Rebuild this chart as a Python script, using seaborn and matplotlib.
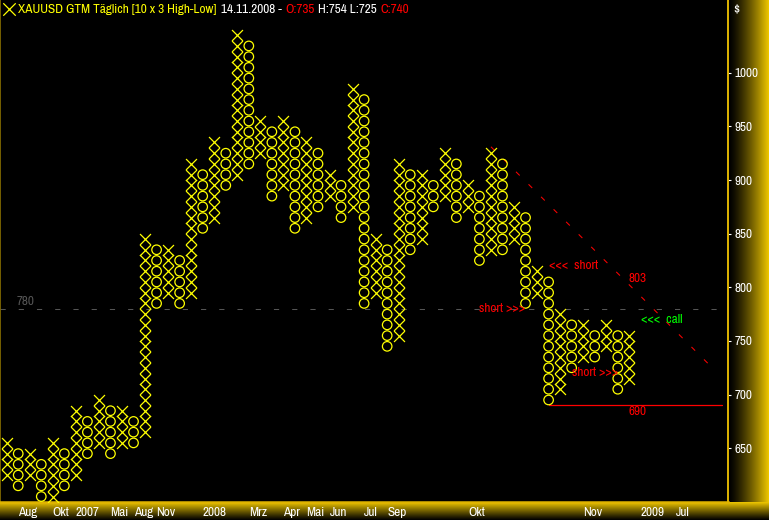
import matplotlib
matplotlib.use('Agg')
import matplotlib.pyplot as plt
import seaborn as sns
import pandas as pd
import numpy as np
from matplotlib import font_manager

# Point & Figure columns (10 x 3), box bottom prices
col_types = ['X', 'O', 'X', 'O', 'X', 'O', 'X', 'O', 'X', 'O',
             'X', 'O', 'X', 'O', 'X', 'O', 'X', 'O', 'X', 'O',
             'X', 'O', 'X', 'O', 'X', 'O', 'X', 'O', 'X', 'O',
             'X', 'O', 'X', 'O', 'X', 'O', 'X', 'O', 'X', 'O',
             'X', 'O', 'X', 'O', 'X', 'O', 'X', 'O', 'X', 'O',
             'X', 'O', 'X', 'O', 'X']
col_lows = [620, 610, 620, 590, 600, 610, 620, 640, 650, 640,
            650, 650, 660, 780, 790, 780, 790, 850, 860, 890,
            900, 910, 920, 880, 890, 850, 860, 870, 880, 860,
            870, 780, 790, 740, 750, 830, 840, 870, 880, 860,
            870, 820, 830, 830, 840, 780, 790, 690, 700, 720,
            730, 730, 740, 700, 710]
col_highs = [650, 640, 640, 630, 650, 640, 680, 670, 690, 680,
             680, 670, 840, 830, 830, 820, 910, 900, 930, 920,
             1030, 1020, 950, 940, 950, 940, 930, 920, 900, 890,
             980, 970, 840, 830, 910, 900, 900, 890, 920, 910,
             890, 880, 920, 910, 870, 860, 810, 800, 770, 760,
             760, 750, 760, 750, 750]
box_size = 10

xtick_cols = [1, 4, 6, 9, 11, 13, 17, 20, 21, 24, 26, 28, 31, 33, 35, 37,
              40, 42, 43, 44, 46, 48, 50, 52, 55, 58]
xtick_labels = ['Aug', 'Okt', '2007', 'Mai', 'Aug', 'Nov', '2008', '', 'Mrz',
                'Apr', 'Mai', 'Jun', 'Jul', 'Sep', '', '', 'Okt', '', '', '',
                '', '', 'Nov', '', '2009', 'Jul']
yticks = [650, 700, 750, 800, 850, 900, 950, 1000]

level_780 = 780
support_690 = 690
support_cols = [47, 62]
trend_cols = [42.0, 61.2]
trend_prices = [931, 725]
trend_value = 803

YELLOW = '#FFFF00'
GOLD = '#E0B400'

sns.set_theme(style='dark')
names = {f.name for f in font_manager.fontManager.ttflist}
FONT = 'Archivo Narrow' if 'Archivo Narrow' in names else 'Liberation Sans'
plt.rcParams['font.family'] = [FONT, 'DejaVu Sans']
FS = 9.5

# expand columns into boxes
rows = []
for i, (t, lo, hi) in enumerate(zip(col_types, col_lows, col_highs)):
    for p in range(lo, hi + box_size, box_size):
        rows.append({'col': i, 'price': p + box_size / 2, 'kind': t})
boxes = pd.DataFrame(rows)

W, H = 769, 520
fig = plt.figure(figsize=(W / 100, H / 100), dpi=100, facecolor='black')

# gradient strips (bottom and right)
ramp = np.linspace(0, 1, 256)
gold_rgb = np.array([240, 200, 0]) / 255
bax = fig.add_axes([0, 0, 1, 18 / H])
bax.imshow((ramp[::-1, None, None] ** 1.1) * gold_rgb * np.ones((1, 2, 1)),
           aspect='auto', extent=[0, 1, 0, 1])
bax.axis('off')
rax = fig.add_axes([729 / W, 18 / H, 40 / W, 502 / H])
rax.imshow((ramp[None, :, None] ** 1.3) * gold_rgb * np.ones((2, 1, 1)),
           aspect='auto', extent=[0, 1, 0, 1])
rax.axis('off')

ax = fig.add_axes([0, 18 / H, 728 / W, 502 / H])
ax.set_facecolor('black')

xs = boxes[boxes['kind'] == 'X']
os_ = boxes[boxes['kind'] == 'O']
sns.scatterplot(data=xs, x='col', y='price', marker='x', s=62, color=YELLOW,
                linewidth=0.9, ax=ax, zorder=3)
sns.scatterplot(data=os_, x='col', y='price', marker='o', s=47, color=YELLOW,
                facecolor='none', edgecolor=YELLOW, linewidth=0.9, ax=ax, zorder=3)

# 780 reference line
ax.axhline(level_780, color='#555555', lw=0.75, dashes=(5, 12.5), zorder=1)
ax.text(0.9, level_780 + 2, str(level_780), color='#555555', fontsize=FS,
        va='bottom', ha='left')

# trend line and support
ax.plot(trend_cols, trend_prices, color='#FF0000', lw=0.75, dashes=(5, 12), zorder=2)
ax.plot(support_cols, [support_690, support_690], color='#FF0000', lw=0.9, zorder=2)
ax.text(54.75, 808, str(trend_value), color='#FF0000', fontsize=FS, ha='center', va='center')
ax.text(54.75, 684, str(support_690), color='#FF0000', fontsize=FS, ha='center', va='center')

ax.text(47.0, 820, '<<<  short', color='#FF0000', fontsize=FS, ha='left', va='center')
ax.text(40.95, 780, 'short >>>', color='#FF0000', fontsize=FS, ha='left', va='center')
ax.text(49.0, 721, 'short >>>', color='#FF0000', fontsize=FS, ha='left', va='center')
ax.text(55.0, 770, '<<<  call', color='#00FF00', fontsize=FS, ha='left', va='center')

ax.set_xlim(-0.58, 62.56)
ax.set_ylim(599.9, 1067.8)
ax.set_xlabel('')
ax.set_ylabel('')
ax.grid(False)

ax.yaxis.tick_right()
ax.set_yticks(yticks)
ax.set_yticklabels([str(v) for v in yticks])
ax.set_xticks(xtick_cols)
ax.set_xticklabels(xtick_labels)
ax.tick_params(axis='y', colors='white', length=2.5, width=0.8, pad=2, labelsize=FS, direction='out')
ax.tick_params(axis='x', colors='white', length=3, width=0.8, pad=0.5, labelsize=FS, direction='out')
plt.setp(ax.get_xticklabels(), ha='left')

ax.spines['top'].set_visible(False)
ax.spines['right'].set_color(GOLD)
ax.spines['right'].set_linewidth(1.4)
ax.spines['bottom'].set_color(GOLD)
ax.spines['bottom'].set_linewidth(1.8)
ax.spines['left'].set_color('#8A7000')
ax.spines['left'].set_linewidth(1.2)

# title line: marker glyph, yellow name, then quote pieces chained left to right
ax.scatter([8.5 / 728], [1 - 9 / 502], marker='x', s=80, color=YELLOW, linewidth=0.9,
           transform=ax.transAxes, clip_on=False)
ty = 1 - 9.5 / H
fig.text(18 / W, ty, 'XAUUSD GTM Täglich [10 x 3 High-Low]', color=YELLOW, fontsize=FS, va='center')
fig.canvas.draw()
renderer = fig.canvas.get_renderer()
pieces = [('14.11.2008 -', 'white'), ('O:735', '#FF0000'),
          ('H:754 L:725', 'white'), ('C:740', '#FF0000')]
xpos = 221
for txt, colr in pieces:
    t = fig.text(xpos / W, ty, txt, color=colr, fontsize=FS, va='center')
    xpos = t.get_window_extent(renderer).x1 + 3.5
fig.text(733 / W, 1 - 9 / H, '$', color='white', fontsize=FS, va='center')

fig.savefig('out.png', dpi=100, facecolor='black')
